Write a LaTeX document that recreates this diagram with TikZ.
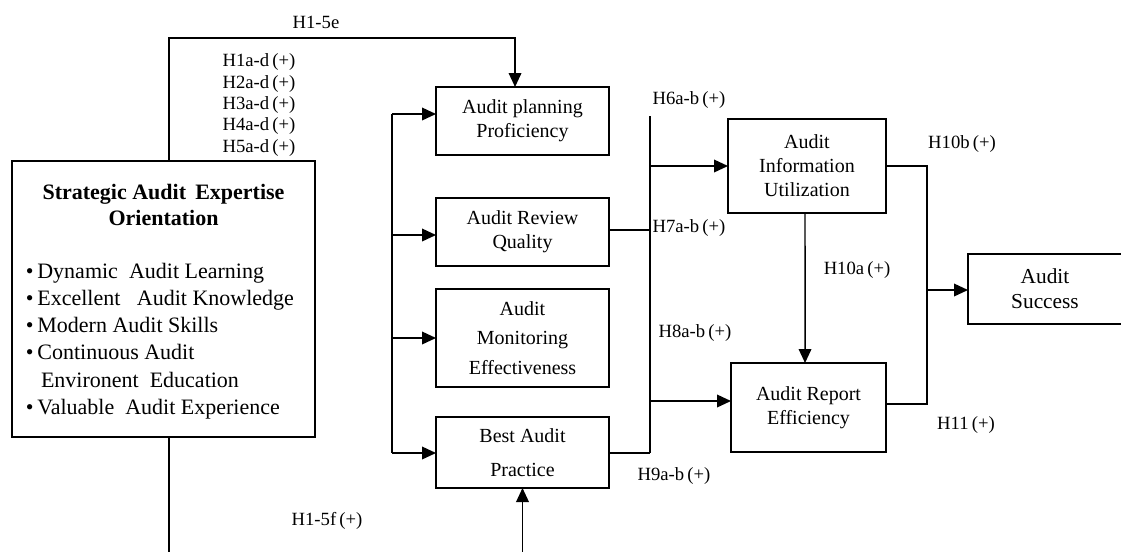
\documentclass[tikz,border=0pt]{standalone}
\usepackage{fontspec}
\setmainfont{Liberation Serif}
\usetikzlibrary{arrows.meta,calc}
\begin{document}
\begin{tikzpicture}[x=0.75pt,y=-0.75pt,
  line width=1.1pt,
  every node/.style={inner sep=0pt, outer sep=0pt},
  box/.style={draw, line width=1.1pt, align=center, font=\fontsize{15}{18}\selectfont},
  wh/.style 2 args={minimum width=#1*0.75pt, minimum height=#2*0.75pt},
  lab/.style={font=\fontsize{14}{16}\selectfont},
  arr/.style={-{Triangle[length=10.5pt,width=9.5pt]}}]
\useasboundingbox (0,0) rectangle (1121,551);
\clip (0,0) rectangle (1121,551);

% ---- boxes ----
\node[box, wh={303}{276}] (seo) at (163.5,299) {};
\node[font=\fontsize{16.5}{19.5}\selectfont\bfseries, align=center] (seotitle) at (163.5,205)
  {Strategic Audit\, Expertise\\Orientation};
\node[font=\fontsize{16.5}{20.4}\selectfont, align=left, anchor=west] (seolist) at (26,341)
  {•\,Dynamic\ \ Audit Learning\\
   •\,Excellent\ \ \ Audit Knowledge\\
   •\,Modern Audit Skills\\
   •\,Continuous Audit\\
   \phantom{•\,}\,Environent\ \ Education\\
   •\,Valuable\ \ Audit Experience};

\node[box, wh={173}{68}] (plan) at (522.5,121) {Audit planning\\Proficiency};
\node[box, wh={173}{68}] (review) at (522.5,232) {Audit Review\\Quality};
\node[box, wh={173}{98}, font=\fontsize{15}{22}\selectfont] (monitor) at (522.5,338) {Audit\\Monitoring\\Effectiveness};
\node[box, wh={173}{71}, font=\fontsize{15}{26}\selectfont] (best) at (522.5,452.5) {Best Audit\\Practice};
\node[box, wh={158}{94}] (info) at (807,166) {Audit\\Information\\Utilization};
\node[box, wh={155}{89}] (report) at (808.5,407.5) {Audit Report\\Efficiency};
\node[box, wh={157}{70}] (success) at (1046.5,289) {};
\node[font=\fontsize{16}{19}\selectfont, align=center] (successtext) at (1045,289) {Audit\\Success};

% ---- routing points ----
\coordinate (topbend) at (169,38);
\coordinate (lowbend) at (169,580);
\coordinate (lb1) at (392,114);
\coordinate (lb2) at (392,235);
\coordinate (lb3) at (392,338);
\coordinate (lb4) at (392,453);
\coordinate (mtop) at (650,116);
\coordinate (m7) at (650,230);
\coordinate (m6) at (650,166);
\coordinate (m8) at (650,401);
\coordinate (m9) at (650,453);
\coordinate (r10b) at (927,166);
\coordinate (r11) at (927,404);
\coordinate (rout) at (927,290);

% ---- connectors ----
\draw[arr] (seo.north -| topbend) -- (topbend) -| ([xshift=-5.6pt]plan.north);
\draw[arr] (seo.south -| lowbend) -- (lowbend) -| (best.south);

\draw (lb1) -- (lb4);
\draw[arr] (lb1) -- (lb1 -| plan.west);
\draw[arr] (lb2) -- (lb2 -| review.west);
\draw[arr] (lb3) -- (lb3 -| monitor.west);
\draw[arr] (lb4) -- (lb4 -| best.west);

\draw (mtop) -- (m9);
\draw (m7 -| review.east) -- (m7);
\draw (m9 -| best.east) -- (m9);
\draw[arr] (m6) -- (m6 -| info.west);
\draw[arr] (m8) -- (m8 -| report.west);

\draw[arr] ([xshift=-1.5pt]info.south) -- ([xshift=-2.6pt]report.north);

\draw (r10b -| info.east) -- (r10b) -- (r11) -- (r11 -| report.east);
\draw[arr] (rout) -- (rout -| success.west);

% ---- hypothesis labels ----
\node[lab] (h15e) at (316,22) {H1-5e};
\node[lab, align=left, font=\fontsize{14}{16.1}\selectfont] (h15ad) at (259,105)
  {H1a-d\,(+)\\H2a-d\,(+)\\H3a-d\,(+)\\H4a-d\,(+)\\H5a-d\,(+)};
\node[lab] (h15f) at (327,521) {H1-5f\,(+)};
\node[lab] (h6) at (689,100) {H6a-b\,(+)};
\node[lab] (h7) at (689,228) {H7a-b\,(+)};
\node[lab] (h8) at (695,333) {H8a-b\,(+)};
\node[lab] (h9) at (674,476) {H9a-b\,(+)};
\node[lab] (h10a) at (857,270) {H10a\,(+)};
\node[lab] (h10b) at (962,144) {H10b\,(+)};
\node[lab] (h11) at (966,425) {H11\,(+)};
\end{tikzpicture}
\end{document}
